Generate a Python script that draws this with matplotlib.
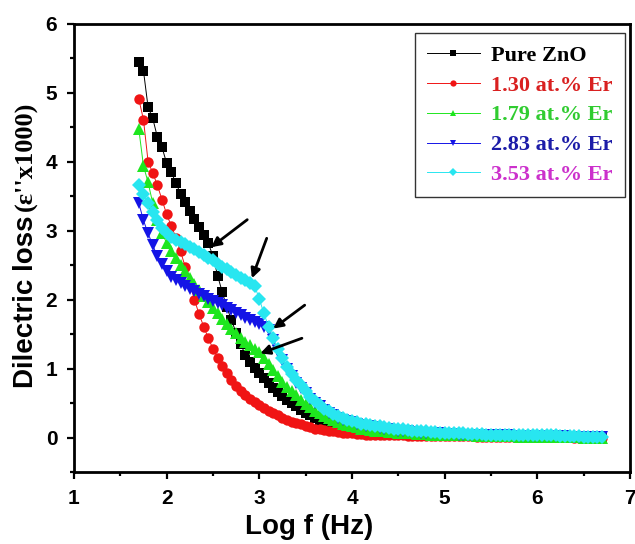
import matplotlib
matplotlib.use("Agg")
import matplotlib.pyplot as plt

# log10 of the measuring frequency (Hz)
log_f = [1.70, 1.75, 1.80, 1.85, 1.90, 1.95, 2.00, 2.05, 2.10, 2.15,
         2.20, 2.25, 2.30, 2.35, 2.40, 2.45, 2.50, 2.55, 2.60, 2.65,
         2.70, 2.75, 2.80, 2.85, 2.90, 2.95, 3.00, 3.05, 3.10, 3.15,
         3.20, 3.25, 3.30, 3.35, 3.40, 3.45, 3.50, 3.55, 3.60, 3.65,
         3.70, 3.75, 3.80, 3.85, 3.90, 3.95, 4.00, 4.05, 4.10, 4.15,
         4.20, 4.25, 4.30, 4.35, 4.40, 4.45, 4.50, 4.55, 4.60, 4.65,
         4.70, 4.75, 4.80, 4.85, 4.90, 4.95, 5.00, 5.05, 5.10, 5.15,
         5.20, 5.25, 5.30, 5.35, 5.40, 5.45, 5.50, 5.55, 5.60, 5.65,
         5.70, 5.75, 5.80, 5.85, 5.90, 5.95, 6.00, 6.05, 6.10, 6.15,
         6.20, 6.25, 6.30, 6.35, 6.40, 6.45, 6.50, 6.55, 6.60, 6.65, 6.70]

# dielectric loss (eps'' / 1000)
pure_zno = [5.45, 5.32, 4.79, 4.63, 4.36, 4.21, 3.98, 3.85, 3.69, 3.54,
            3.41, 3.29, 3.17, 3.05, 2.94, 2.82, 2.63, 2.35, 2.11, 1.89,
            1.70, 1.52, 1.35, 1.20, 1.10, 1.01, 0.93, 0.86, 0.79, 0.72,
            0.66, 0.60, 0.55, 0.50, 0.45, 0.40, 0.36, 0.32, 0.28, 0.25,
            0.22, 0.19, 0.17, 0.15, 0.13, 0.12, 0.11, 0.10, 0.09, 0.08,
            0.07, 0.07, 0.06, 0.06, 0.05, 0.05, 0.05, 0.04, 0.04, 0.04,
            0.04, 0.03, 0.03, 0.03, 0.03, 0.03, 0.03, 0.02, 0.02, 0.02,
            0.02, 0.02, 0.02, 0.02, 0.02, 0.02, 0.02, 0.02, 0.01, 0.01,
            0.01, 0.01, 0.01, 0.01, 0.01, 0.01, 0.01, 0.01, 0.01, 0.01,
            0.01, 0.01, 0.01, 0.01, 0.01, 0.00, 0.00, 0.00, 0.00, 0.00, 0.00]

er_130 = [4.91, 4.61, 4.00, 3.84, 3.66, 3.45, 3.24, 3.07, 2.90, 2.70,
          2.48, 2.24, 2.00, 1.79, 1.61, 1.44, 1.29, 1.16, 1.04, 0.93,
          0.84, 0.75, 0.68, 0.61, 0.56, 0.51, 0.47, 0.43, 0.39, 0.35,
          0.32, 0.29, 0.26, 0.23, 0.21, 0.19, 0.17, 0.15, 0.13, 0.12,
          0.11, 0.10, 0.09, 0.08, 0.07, 0.06, 0.06, 0.05, 0.05, 0.04,
          0.04, 0.04, 0.03, 0.03, 0.03, 0.03, 0.03, 0.03, 0.02, 0.02,
          0.02, 0.02, 0.02, 0.02, 0.02, 0.02, 0.02, 0.02, 0.02, 0.02,
          0.02, 0.02, 0.02, 0.01, 0.01, 0.01, 0.01, 0.01, 0.01, 0.01,
          0.01, 0.01, 0.01, 0.01, 0.01, 0.01, 0.01, 0.01, 0.01, 0.01,
          0.01, 0.01, 0.01, 0.01, 0.00, 0.00, 0.00, 0.00, 0.00, 0.00, 0.00]

er_179 = [4.47, 3.94, 3.70, 3.40, 3.15, 2.97, 2.82, 2.70, 2.60, 2.50,
          2.41, 2.32, 2.23, 2.14, 2.05, 1.96, 1.88, 1.80, 1.72, 1.65,
          1.58, 1.51, 1.45, 1.39, 1.34, 1.29, 1.24, 1.15, 1.06, 0.98,
          0.89, 0.81, 0.74, 0.67, 0.61, 0.55, 0.49, 0.44, 0.39, 0.35,
          0.31, 0.28, 0.25, 0.22, 0.20, 0.18, 0.16, 0.15, 0.13, 0.12,
          0.11, 0.10, 0.09, 0.09, 0.08, 0.08, 0.07, 0.07, 0.06, 0.06,
          0.05, 0.05, 0.05, 0.04, 0.04, 0.04, 0.04, 0.03, 0.03, 0.03,
          0.03, 0.03, 0.03, 0.02, 0.02, 0.02, 0.02, 0.02, 0.02, 0.02,
          0.02, 0.02, 0.01, 0.01, 0.01, 0.01, 0.01, 0.01, 0.01, 0.01,
          0.01, 0.01, 0.01, 0.01, 0.01, 0.01, 0.00, 0.00, 0.00, 0.00, 0.00]

er_283 = [3.40, 3.15, 2.96, 2.79, 2.63, 2.52, 2.42, 2.33, 2.28, 2.24,
          2.20, 2.16, 2.12, 2.08, 2.05, 2.01, 1.98, 1.95, 1.92, 1.88,
          1.85, 1.81, 1.78, 1.74, 1.71, 1.67, 1.64, 1.60, 1.56, 1.41,
          1.26, 1.13, 1.00, 0.89, 0.79, 0.72, 0.64, 0.56, 0.50, 0.45,
          0.40, 0.36, 0.32, 0.29, 0.26, 0.24, 0.22, 0.20, 0.18, 0.17,
          0.16, 0.15, 0.14, 0.13, 0.12, 0.11, 0.10, 0.10, 0.09, 0.08,
          0.08, 0.07, 0.07, 0.06, 0.06, 0.06, 0.05, 0.05, 0.05, 0.04,
          0.04, 0.04, 0.04, 0.04, 0.03, 0.03, 0.03, 0.03, 0.03, 0.03,
          0.03, 0.02, 0.02, 0.02, 0.02, 0.02, 0.02, 0.02, 0.02, 0.02,
          0.02, 0.02, 0.02, 0.01, 0.01, 0.01, 0.01, 0.01, 0.01, 0.01, 0.01]

er_353 = [3.66, 3.53, 3.40, 3.27, 3.15, 3.04, 2.96, 2.91, 2.87, 2.84,
          2.81, 2.77, 2.73, 2.69, 2.65, 2.61, 2.57, 2.52, 2.48, 2.44,
          2.40, 2.36, 2.32, 2.28, 2.24, 2.20, 2.01, 1.80, 1.61, 1.45,
          1.29, 1.16, 1.03, 0.92, 0.83, 0.76, 0.67, 0.59, 0.53, 0.47,
          0.42, 0.38, 0.34, 0.31, 0.28, 0.26, 0.24, 0.22, 0.20, 0.19,
          0.18, 0.17, 0.16, 0.15, 0.14, 0.13, 0.12, 0.12, 0.11, 0.10,
          0.10, 0.09, 0.09, 0.08, 0.08, 0.07, 0.07, 0.07, 0.06, 0.06,
          0.06, 0.05, 0.05, 0.05, 0.05, 0.04, 0.04, 0.04, 0.04, 0.04,
          0.03, 0.03, 0.03, 0.03, 0.03, 0.03, 0.03, 0.03, 0.03, 0.03,
          0.03, 0.02, 0.02, 0.02, 0.02, 0.02, 0.01, 0.01, 0.01, 0.01, 0.01]

labels = ["Pure ZnO", "1.30 at.% Er", "1.79 at.% Er", "2.83 at.% Er", "3.53 at.% Er"]
series = [pure_zno, er_130, er_179, er_283, er_353]
colors = ["#000000", "#f01414", "#1ee61e", "#1414e6", "#28e6f0"]
markers = ["s", "o", "^", "v", "D"]
msizes = [6.5, 7.5, 8.0, 8.0, 7.0]
text_colors = ["#000000", "#d92020", "#30cc30", "#1c1ca8", "#cc30cc"]

SANS = "Liberation Sans"
SERIF = "Liberation Serif"

fig = plt.figure(figsize=(6.35, 5.44), dpi=100)
ax = fig.add_axes([0.1165, 0.1324, 0.8755, 0.8236])

for ys, c, m, ms, lab in zip(series, colors, markers, msizes, labels):
    ax.plot(log_f, ys, color=c, lw=0.7, marker=m, markersize=ms,
            markeredgewidth=0, label=lab)

ax.set_xlim(1, 7)
ax.set_ylim(-0.5, 6)
ax.set_xticks([1, 2, 3, 4, 5, 6, 7])
ax.set_yticks([0, 1, 2, 3, 4, 5, 6])
ax.set_xticks([1.5, 2.5, 3.5, 4.5, 5.5, 6.5], minor=True)
ax.set_yticks([-0.5, 0.5, 1.5, 2.5, 3.5, 4.5, 5.5], minor=True)
ax.tick_params(which="major", direction="out", length=5, width=1.6, pad=7,
               labelsize=15)
ax.tick_params(which="minor", direction="out", length=3, width=1.6)
for lbl in ax.get_xticklabels() + ax.get_yticklabels():
    lbl.set_fontfamily(SANS)
    lbl.set_fontweight("bold")
for sp in ax.spines.values():
    sp.set_linewidth(2.0)

# arrows marking the kinks of each curve
arrow_kw = dict(arrowstyle="-|>", color="black", lw=2.0, mutation_scale=14,
                shrinkA=0, shrinkB=0)
ax.annotate("", xy=(2.48, 2.76), xytext=(2.87, 3.16), arrowprops=arrow_kw)
ax.annotate("", xy=(2.92, 2.31), xytext=(3.08, 2.89), arrowprops=arrow_kw)
ax.annotate("", xy=(3.15, 1.58), xytext=(3.49, 1.92), arrowprops=arrow_kw)
ax.annotate("", xy=(3.01, 1.22), xytext=(3.46, 1.44), arrowprops=arrow_kw)

leg = ax.legend(loc="upper right", bbox_to_anchor=(0.991, 0.98),
                borderaxespad=0, frameon=True, fancybox=False,
                handlelength=2.4, handletextpad=0.5, markerscale=0.6,
                labelspacing=0.42, borderpad=0.55,
                prop={"family": SERIF, "weight": "bold", "size": 16})
leg.get_frame().set_edgecolor("black")
leg.get_frame().set_linewidth(1.0)
for txt, tc in zip(leg.get_texts(), text_colors):
    txt.set_color(tc)

fig.text(309 / 635, 1 - 527 / 544, "Log f (Hz)", ha="center", va="center",
         fontsize=20, fontweight="bold", family=SANS)
fig.text(26 / 635, 1 - 302 / 544, "Dilectric loss", ha="center", va="center",
         rotation=90, fontsize=20, fontweight="bold", family=SANS)
fig.text(26 / 635, 1 - 156 / 544, "(\u03b5''x1000)", ha="center", va="center",
         rotation=90, fontsize=19, fontweight="bold", family=SERIF)

fig.savefig("out.png", dpi=100)
